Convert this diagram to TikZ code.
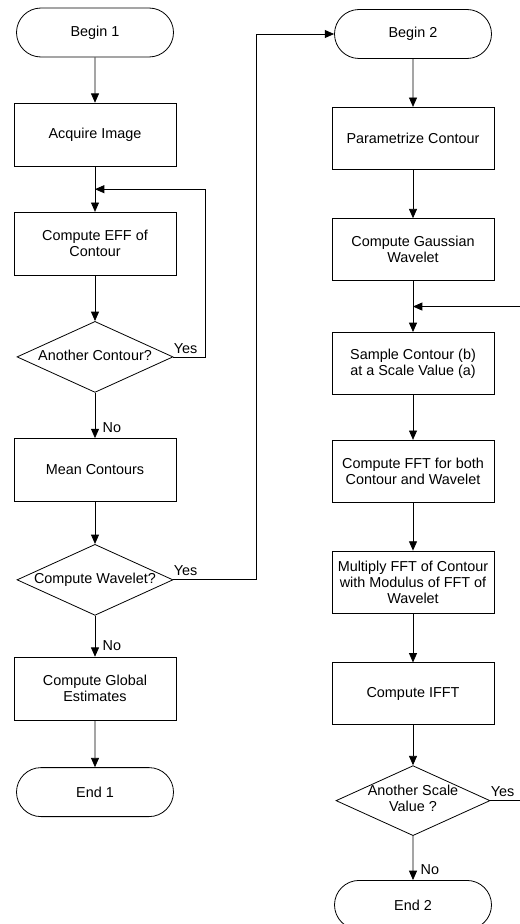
\documentclass[tikz,border=0pt]{standalone}
\usepackage{fontspec}
\setmainfont{Liberation Sans}
\usetikzlibrary{arrows.meta,positioning,calc,shapes.geometric,shapes.misc}
\newcommand{\qtext}[1]{\makebox[0pt]{\begin{tabular}{@{}c@{}}#1\end{tabular}}}

\begin{document}
\begin{tikzpicture}[
  x=0.75pt, y=0.75pt,
  node distance=34pt,
  font=\fontsize{10.8}{12}\selectfont,
  line width=0.6pt,
  terminal/.style={draw,rounded rectangle,minimum width=117.75pt,
                   minimum height=36.75pt,inner sep=0pt},
  box/.style={draw,align=center,minimum width=121.5pt,
              minimum height=47.25pt,inner sep=2pt},
  rbox/.style={box,minimum height=46.5pt},
  decision/.style={draw,diamond,aspect=2.2,inner sep=0pt,
                   minimum width=117pt,minimum height=53.25pt},
  flow/.style={-{Triangle[length=7pt,width=6pt]}},
  yes/.style={anchor=south west,inner sep=0pt,yshift=2.5pt},
  no/.style={anchor=south west,inner sep=0pt,xshift=5.5pt,yshift=4pt}
]
\useasboundingbox (0,0) rectangle (520,-924);
\clip (0,0) rectangle (520,-924);

% first chart
\node[terminal] (begin1) at (95,-32.5) {Begin 1};
\node[box,below=of begin1] (acquire) {Acquire Image};
\node[box,below=of acquire] (eff) {Compute EFF of\\Contour};
\node[decision,below=of eff] (q1) {\qtext{Another Contour?}};
\node[box,below=of q1] (mean) {Mean Contours};
\node[decision,below=31.5pt of mean] (q2) {\qtext{Compute Wavelet?}};
\node[box,below=30.75pt of q2] (global) {Compute Global\\Estimates};
\node[terminal,below=35pt of global] (end1) {End 1};

% second chart
\node[terminal] (begin2) at (413,-34) {Begin 2};
\node[rbox,below=36pt of begin2] (param) {Parametrize Contour};
\node[rbox,below=36.4pt of param] (gauss) {Compute Gaussian\\Wavelet};
\node[rbox,below=38.25pt of gauss] (sample) {Sample Contour (b)\\at a Scale Value (a)};
\node[rbox,below=33.75pt of sample] (fft) {Compute FFT for both\\Contour and Wavelet};
\node[rbox,below=36pt of fft] (multiply)
      {Multiply FFT of Contour\\with Modulus of FFT of\\Wavelet};
\node[rbox,below=36.75pt of multiply] (ifft) {Compute IFFT};
\node[decision,below=30pt of ifft,minimum width=115.5pt,
      minimum height=52.5pt] (q3) {\qtext{Another Scale\\Value ?}};
\node[terminal,below=33pt of q3] (end2) {End 2};

\coordinate (join1) at ($(acquire.south)!0.5!(eff.north)$);
\coordinate (join2) at ($(gauss.south)!0.5!(sample.north)$);

\draw[flow] (begin1) -- (acquire);
\draw[flow] (acquire) -- (eff);
\draw[flow] (eff) -- (q1);
\draw[flow] (q1) -- node[no,pos=1] {No} (mean);
\draw[flow] (mean) -- (q2);
\draw[flow] (q2) -- node[no,pos=1] {No} (global);
\draw[flow] (global) -- (end1);
\draw[flow] (q1.east) -- node[yes,pos=0] {Yes} ++(32,0) |- (join1);
\draw[flow] (q2.east) -- node[yes,pos=0] {Yes} ++(83,0) |- (begin2.west);

\draw[flow] (begin2) -- (param);
\draw[flow] (param) -- (gauss);
\draw[flow] (gauss) -- (sample);
\draw[flow] (sample) -- (fft);
\draw[flow] (fft) -- (multiply);
\draw[flow] (multiply) -- (ifft);
\draw[flow] (ifft) -- (q3);
\draw[flow] (q3) -- node[no,pos=1] {No} (end2);
\draw[flow] (q3.east) -- node[yes,pos=0] {Yes} ++(40,0) |- (join2);
\end{tikzpicture}
\end{document}
